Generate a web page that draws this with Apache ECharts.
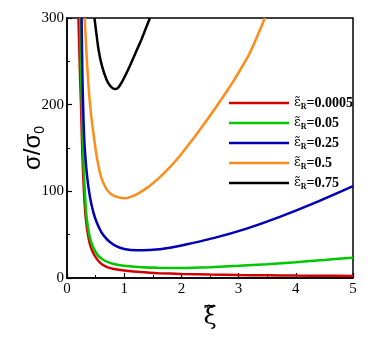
<!DOCTYPE html>
<html>
<head>
<meta charset="utf-8">
<script src="https://cdn.jsdelivr.net/npm/echarts@6/dist/echarts.min.js"></script>
<style>
  html, body { margin: 0; padding: 0; background: #fff; }
  #chart { width: 382px; height: 339px; }
</style>
</head>
<body>
<div id="chart"></div>
<script>
// legend labels (value of eps_R)
var epsLabels = ["0.0005", "0.05", "0.25", "0.5", "0.75"];
var colors = ["#d40000", "#00c800", "#0000b4", "#ff8c1a", "#000000"];

// [xi, sigma/sigma0]
var red = [[0.2,300],[0.225,240],[0.245,200],[0.27,140],[0.3,95],[0.33,68],[0.38,45],[0.43,33],[0.5,24],
  [0.58,17.5],[0.7,12.5],[0.85,10],[1.04,8.3],[1.3,6.8],[1.6,5.6],[2.0,4.6],[2.5,4],[3,3.5],[3.5,3.1],
  [4,2.8],[4.5,2.6],[5,2.4]];
var green = [[0.23,300],[0.245,240],[0.26,200],[0.29,130],[0.32,90],[0.34,72],[0.38,53],[0.42,42],[0.46,35],
  [0.53,27],[0.63,21],[0.75,17.5],[0.9,15],[1.04,13.8],[1.3,12.4],[1.6,11.7],[2.0,11.6],[2.5,12.4],[3,14],
  [3.5,16],[4,18.3],[4.5,20.8],[5,23.5]];
var blue = [[0.255,300],[0.27,230],[0.29,180],[0.31,150],[0.35,118],[0.4,94],[0.46,76],[0.52,64],[0.6,53],
  [0.68,46],[0.75,41.5],[0.85,37],[1.0,33.5],[1.22,32],[1.5,32.5],[1.8,35],[2.0,37.5],[2.56,46],[3.14,57],
  [3.72,70.5],[4.31,86],[5,106]];
var orange = [[0.31,300],[0.34,260],[0.37,228],[0.4,202],[0.44,178],[0.48,158],[0.52,140],[0.59,118],
  [0.67,105],[0.75,98],[0.85,94],[1.0,92],[1.2,96],[1.4,104],[1.6,115],[1.8,128],[2.0,143],[2.4,178],
  [2.8,216],[3.0,237],[3.2,260],[3.46,300]];
var black = [[0.48,300],[0.51,284],[0.55,264],[0.61,245],[0.69,229],[0.75,222],[0.8,219],[0.85,218],
  [0.9,220],[0.95,225],[1.0,231],[1.1,245],[1.2,260],[1.3,275],[1.45,300]];

var allData = [red, green, blue, orange, black];

var chart = echarts.init(document.getElementById("chart"));

var series = allData.map(function (d, i) {
  return {
    name: epsLabels[i],
    type: "line",
    data: d,
    smooth: 0.2,
    showSymbol: false,
    clip: true,
    lineStyle: { color: colors[i], width: 2.5 },
    itemStyle: { color: colors[i] }
  };
});

var option = {
  animation: false,
  grid: {
    left: 67, right: 29, top: 18, bottom: 61,
    outerBoundsMode: "none",
    show: true, borderColor: "#000", borderWidth: 1.5
  },
  legend: {
    orient: "vertical",
    left: 224,
    top: 91,
    icon: "rect",
    itemWidth: 60,
    itemHeight: 2.5,
    itemGap: 5,
    data: epsLabels,
    formatter: function (name) {
      return "{e|ε̃}{s|R}{v|=" + name + "}";
    },
    textStyle: {
      rich: {
        e: { fontFamily: "DejaVu Serif", fontSize: 13, color: "#000", lineHeight: 16 },
        s: { fontFamily: "Liberation Serif", fontWeight: "bold", fontSize: 8, color: "#000", verticalAlign: "bottom", lineHeight: 16 },
        v: { fontFamily: "Liberation Serif", fontWeight: "bold", fontSize: 14, color: "#000", lineHeight: 16 }
      }
    }
  },
  xAxis: {
    type: "value",
    min: 0, max: 5, interval: 1,
    name: "ξ̃",
    nameLocation: "middle",
    nameGap: 28,
    nameMoveOverlap: false,
    nameTextStyle: { fontFamily: "DejaVu Serif", fontSize: 24, color: "#000" },
    axisLine: { lineStyle: { color: "#000", width: 1.5 } },
    axisTick: { inside: true, length: 5, lineStyle: { color: "#000", width: 1.2 } },
    minorTick: { show: true, splitNumber: 2, length: 3, lineStyle: { color: "#000" } },
    splitLine: { show: false },
    axisLabel: { fontFamily: "Liberation Serif", fontSize: 15, color: "#000", margin: 4 }
  },
  yAxis: {
    type: "value",
    min: 0, max: 300, interval: 100,
    name: "{a|σ/σ}{b|0}",
    nameLocation: "middle",
    nameRotate: 90,
    nameGap: 20,
    nameMoveOverlap: false,
    nameTextStyle: {
      rich: {
        a: { fontFamily: "Liberation Sans", fontSize: 24, color: "#000", lineHeight: 28 },
        b: { fontFamily: "Liberation Sans", fontSize: 14, color: "#000", verticalAlign: "bottom", lineHeight: 28 }
      }
    },
    axisLine: { lineStyle: { color: "#000", width: 1.5 } },
    axisTick: { inside: true, length: 5, lineStyle: { color: "#000", width: 1.2 } },
    minorTick: { show: true, splitNumber: 2, length: 3, lineStyle: { color: "#000" } },
    splitLine: { show: false },
    axisLabel: { fontFamily: "Liberation Serif", fontSize: 15, color: "#000", margin: 3 }
  },
  series: series
};

chart.setOption(option);
</script>
</body>
</html>
